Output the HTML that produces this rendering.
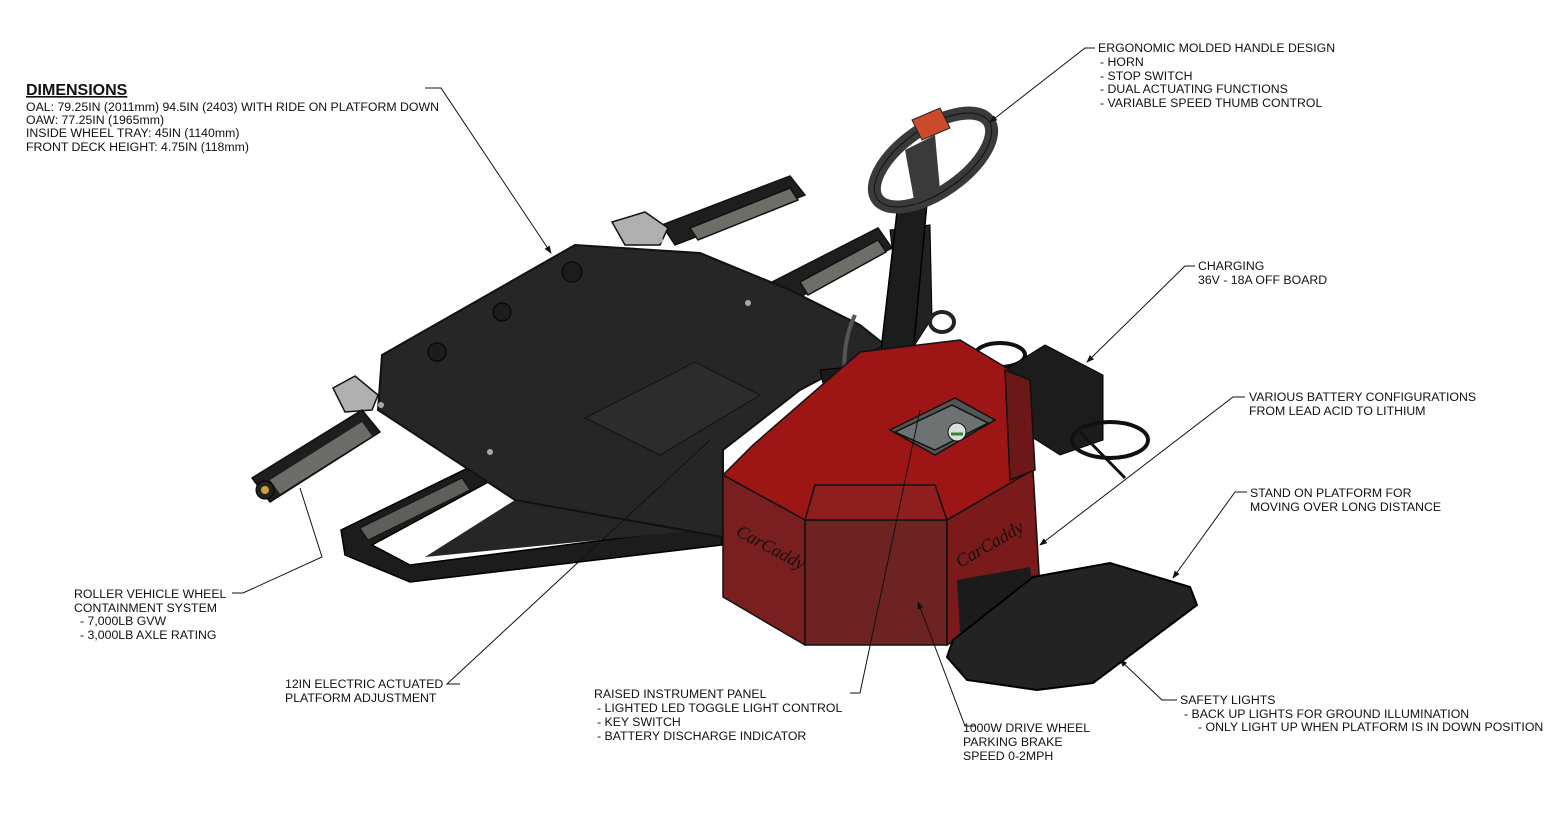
<!DOCTYPE html>
<html><head><meta charset="utf-8"><style>
html,body{margin:0;padding:0;background:#fff}
svg{display:block}
text{font-family:"Liberation Sans",Arial,sans-serif;font-size:12.3px;fill:#111}
</style></head><body>
<svg width="1562" height="833" viewBox="0 0 1562 833" xmlns="http://www.w3.org/2000/svg">
<rect width="1562" height="833" fill="#fff"/>
<defs>
<marker id="a" markerWidth="8" markerHeight="8" refX="7" refY="4" orient="auto" markerUnits="userSpaceOnUse"><path d="M0,1 L8,4 L0,7 z" fill="#111"/></marker>
</defs>

<g stroke="#111" stroke-width="1.5">
<polygon points="662,225 790,176 805,195 675,245" fill="#1e1e1e"/>
<polygon points="690,228 790,188 798,200 698,240" fill="#6e6e68"/>
<polygon points="772,282 878,228 892,248 785,305" fill="#1e1e1e"/>
<polygon points="800,282 878,240 886,252 808,295" fill="#6e6e68"/>
<polygon points="612,222 645,212 668,228 660,245 625,245" fill="#b0b0b0"/>
<polygon points="333,388 355,376 378,395 372,410 345,412" fill="#b0b0b0"/>
</g>

<polygon points="341,530 468,468 492,480 372,545 410,565 722,525 722,545 410,582 345,555" fill="#1c1c1c" stroke="#000" stroke-width="1.5"/>
<polygon points="360,528 462,478 470,490 368,540" fill="#5e5e5a" stroke="#111"/>

<polygon points="252,478 362,410 380,432 270,502" fill="#1e1e1e" stroke="#111" stroke-width="1.5"/>
<polygon points="270,480 362,422 372,436 280,494" fill="#6c6c68"/>
<circle cx="265" cy="490" r="9" fill="#222" stroke="#000"/>
<circle cx="265" cy="490" r="4" fill="#c9a23a"/>

<polygon points="515,500 425,557 722,528 723,500" fill="#262626"/>
<polygon points="382,355 575,245 700,253 790,290 860,325 885,345 800,390 723,450 723,537 515,500 378,410" fill="#262626" stroke="#111" stroke-width="2"/>
<polygon points="585,418 695,362 760,395 660,455" fill="#2c2c2c" stroke="#111"/>
<g fill="#1c1c1c" stroke="#000"><circle cx="572" cy="272" r="10"/><circle cx="502" cy="312" r="9"/><circle cx="437" cy="352" r="9"/></g>
<g fill="#aaa"><circle cx="748" cy="303" r="3"/><circle cx="490" cy="452" r="3"/><circle cx="381" cy="405" r="3"/><circle cx="660" cy="240" r="3"/></g>

<polygon points="890,230 930,225 932,318 905,360" fill="#222" stroke="#000"/>
<ellipse cx="942" cy="322" rx="12" ry="10" fill="none" stroke="#222" stroke-width="4"/>
<polygon points="898,203 927,203 907,420 873,420" fill="#1c1c1c" stroke="#000" stroke-width="1.5"/>
<ellipse cx="933" cy="160" rx="68" ry="32" transform="rotate(-35 933 160)" fill="none" stroke="#3a3a3a" stroke-width="13"/>
<ellipse cx="933" cy="160" rx="68" ry="32" transform="rotate(-35 933 160)" fill="none" stroke="#111" stroke-width="1"/>
<polygon points="905,150 935,135 940,190 915,205" fill="#3a3a3a"/>
<polygon points="912,120 940,108 950,128 922,140" fill="#cc4a2c" stroke="#222"/>
<polygon points="820,370 870,365 870,410 830,415" fill="#1a1a1a" stroke="#000"/>
<path d="M848,405 Q838,350 855,315" fill="none" stroke="#555" stroke-width="4"/>

<ellipse cx="1000" cy="355" rx="25" ry="12" fill="none" stroke="#111" stroke-width="4"/>
<polygon points="1005,370 1045,345 1103,375 1103,440 1060,455 1005,420" fill="#1c1c1c" stroke="#000"/>
<ellipse cx="1110" cy="440" rx="38" ry="18" fill="none" stroke="#111" stroke-width="4"/>
<line x1="1080" y1="432" x2="1125" y2="478" stroke="#111" stroke-width="3"/>

<g stroke="#111" stroke-width="1.5">
<polygon points="723,475 753,445 860,352 960,340 1010,370 1033,470 947,520 805,520" fill="#9e1515"/>
<polygon points="723,475 805,520 805,645 723,597" fill="#7a1f1f"/>
<polygon points="805,520 947,520 947,645 805,645" fill="#6e2323"/>
<polygon points="815,485 935,485 947,520 805,520" fill="#8f1e1e"/>
<polygon points="947,520 1033,470 1040,590 947,645" fill="#7a1a1a"/>
<polygon points="1005,370 1030,380 1035,470 1010,480" fill="#6d1818"/>
<polygon points="890,430 955,398 995,420 935,455" fill="#555"/>
<polygon points="895,432 952,405 988,423 935,450" fill="#6d7272"/>
</g>
<circle cx="957" cy="432" r="9" fill="#ddd" stroke="#111"/>
<path d="M951,434 h12" stroke="#2b8a2b" stroke-width="3"/>
<text x="735" y="535" transform="rotate(28 735 535)" style="font-family:'Liberation Serif',serif;font-style:italic;font-size:18px;fill:#111">CarCaddy</text>
<text x="960" y="568" transform="rotate(-30 960 568)" style="font-family:'Liberation Serif',serif;font-style:italic;font-size:18px;fill:#111">CarCaddy</text>

<polygon points="957,580 1030,567 1037,615 960,632" fill="#1b1b1b"/>
<polygon points="953,640 1033,577 1110,563 1190,587 1197,605 1093,683 1037,690 967,680 947,657" fill="#232323" stroke="#000" stroke-width="2"/>

<g stroke="#111" stroke-width="1" fill="none">
<path d="M425,88 H441 L551,253" marker-end="url(#a)"/>
<path d="M1095,48 H1085 L990,122" marker-end="url(#a)"/>
<path d="M1195,266 H1185 L1087,362" marker-end="url(#a)"/>
<path d="M1245,397 H1233 L1040,545" marker-end="url(#a)"/>
<path d="M1247,492 H1235 L1173,578" marker-end="url(#a)"/>
<path d="M1177,700 H1162 L1120,660" marker-end="url(#a)"/>
<path d="M976,726 H965 L918,602" marker-end="url(#a)"/>
<path d="M850,693 H860 L920,410"/>
<path d="M460,684 H447 L710,440"/>
<path d="M232,593 H243 L322,557 L300,488"/>
</g>

<text x="26" y="95" style="font-weight:bold;font-size:16px;text-decoration:underline">DIMENSIONS</text>
<text x="26" y="111">OAL: 79.25IN (2011mm) 94.5IN (2403) WITH RIDE ON PLATFORM DOWN</text>
<text x="26" y="124">OAW: 77.25IN (1965mm)</text>
<text x="26" y="137">INSIDE WHEEL TRAY: 45IN (1140mm)</text>
<text x="26" y="151">FRONT DECK HEIGHT: 4.75IN (118mm)</text>

<text x="1098" y="52">ERGONOMIC MOLDED HANDLE DESIGN</text>
<text x="1100" y="66">- HORN</text>
<text x="1100" y="80">- STOP SWITCH</text>
<text x="1100" y="93">- DUAL ACTUATING FUNCTIONS</text>
<text x="1100" y="107">- VARIABLE SPEED THUMB CONTROL</text>

<text x="1198" y="270">CHARGING</text>
<text x="1198" y="284">36V - 18A OFF BOARD</text>

<text x="1249" y="401">VARIOUS BATTERY CONFIGURATIONS</text>
<text x="1249" y="415">FROM LEAD ACID TO LITHIUM</text>

<text x="1250" y="497">STAND ON PLATFORM FOR</text>
<text x="1250" y="511">MOVING OVER LONG DISTANCE</text>

<text x="1180" y="704">SAFETY LIGHTS</text>
<text x="1184" y="718">- BACK UP LIGHTS FOR GROUND ILLUMINATION</text>
<text x="1198" y="731">- ONLY LIGHT UP WHEN PLATFORM IS IN DOWN POSITION</text>

<text x="963" y="732">1000W DRIVE WHEEL</text>
<text x="963" y="746">PARKING BRAKE</text>
<text x="963" y="760">SPEED 0-2MPH</text>

<text x="594" y="698">RAISED INSTRUMENT PANEL</text>
<text x="597" y="712">- LIGHTED LED TOGGLE LIGHT CONTROL</text>
<text x="597" y="726">- KEY SWITCH</text>
<text x="597" y="740">- BATTERY DISCHARGE INDICATOR</text>

<text x="285" y="688">12IN ELECTRIC ACTUATED</text>
<text x="285" y="702">PLATFORM ADJUSTMENT</text>

<text x="74" y="598">ROLLER VEHICLE WHEEL</text>
<text x="74" y="612">CONTAINMENT SYSTEM</text>
<text x="80" y="625">- 7,000LB GVW</text>
<text x="80" y="639">- 3,000LB AXLE RATING</text>
</svg>
</body></html>
